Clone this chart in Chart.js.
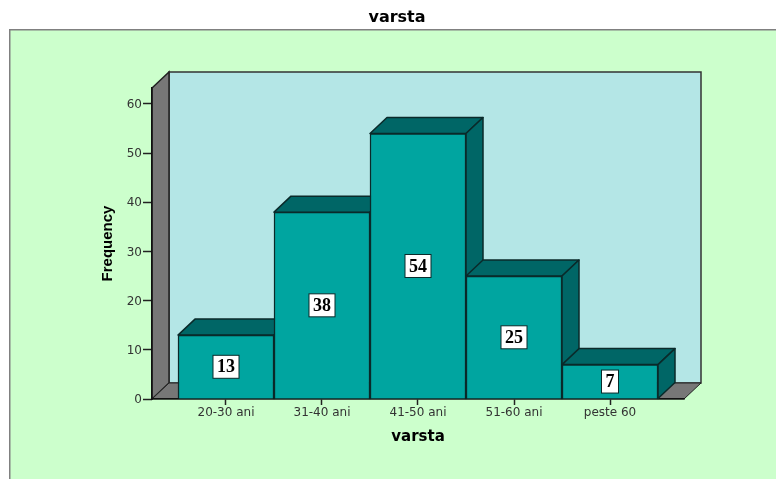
<!DOCTYPE html>
<html>
<head>
    <title>varsta</title>
    <script src="https://cdn.jsdelivr.net/npm/chart.js"></script>
    <style>
        body { margin: 0; background: #fff; }
        canvas { display: block; }
    </style>
</head>
<body>
    <canvas id="histChart" width="776" height="479"></canvas>

    <script>
        const categories = ['20-30 ani', '31-40 ani', '41-50 ani', '51-60 ani', 'peste 60'];
        const frequency = [13, 38, 54, 25, 7];
        const yTicks = [0, 10, 20, 30, 40, 50, 60];

        // depth of the fake 3D box, in pixels
        const DX = 17, DY = 16;

        function poly(c, pts, fill, stroke, lw) {
            c.beginPath();
            pts.forEach((p, i) => i ? c.lineTo(p[0], p[1]) : c.moveTo(p[0], p[1]));
            c.closePath();
            c.fillStyle = fill;
            c.fill();
            c.strokeStyle = stroke;
            c.lineWidth = lw;
            c.stroke();
        }

        const box3d = {
            id: 'box3d',
            afterLayout(chart) {
                // title sits a little right of the centre of its box
                chart.titleBlock.left += 10;
            },
            beforeDraw(chart) {
                const c = chart.ctx;
                const { left, right, top, bottom } = chart.chartArea;
                c.save();
                c.fillStyle = '#fff';
                c.fillRect(0, 0, chart.width, chart.height);
                // panel runs off the right and bottom of the picture
                c.fillStyle = '#ccffcc';
                c.fillRect(10, 30, chart.width, chart.height);
                c.fillStyle = '#808080';
                c.fillRect(9, 29, chart.width, 1.5);
                c.fillRect(9, 29, 1.5, chart.height);
                // back wall, left wall, floor
                poly(c, [[left + DX, top - DY], [right + DX, top - DY], [right + DX, bottom - DY], [left + DX, bottom - DY]], '#b4e6e6', '#333', 1.5);
                poly(c, [[left, top], [left + DX, top - DY], [left + DX, bottom - DY], [left, bottom]], '#777777', '#222', 1.5);
                poly(c, [[left, bottom], [left + DX, bottom - DY], [right + DX, bottom - DY], [right, bottom]], '#777777', '#222', 1);
                c.restore();
            },
            beforeDatasetsDraw(chart) {
                const c = chart.ctx;
                const bars = chart.getDatasetMeta(0).data;
                c.save();
                c.lineJoin = 'round';
                bars.forEach(b => {
                    const p = b.getProps(['x', 'y', 'base', 'width'], true);
                    const l = p.x - p.width / 2, r = p.x + p.width / 2;
                    // top face then right face
                    poly(c, [[l, p.y], [l + DX, p.y - DY], [r + DX, p.y - DY], [r, p.y]], '#006666', '#0a2a2a', 1.5);
                    poly(c, [[r, p.y], [r + DX, p.y - DY], [r + DX, p.base - DY], [r, p.base]], '#006666', '#0a2a2a', 1.5);
                });
                c.restore();
            },
            afterDatasetsDraw(chart) {
                const c = chart.ctx;
                const bars = chart.getDatasetMeta(0).data;
                c.save();
                c.font = 'bold 18px "Liberation Serif"';
                c.textAlign = 'center';
                c.textBaseline = 'middle';
                bars.forEach((b, i) => {
                    const p = b.getProps(['x', 'y', 'base'], true);
                    const cy = (p.y + p.base) / 2;
                    const txt = String(frequency[i]);
                    const w = c.measureText(txt).width + 8;
                    c.fillStyle = '#fff';
                    c.fillRect(p.x - w / 2, cy - 11.5, w, 23);
                    c.strokeStyle = '#0a2a2a';
                    c.lineWidth = 1;
                    c.strokeRect(p.x - w / 2, cy - 11.5, w, 23);
                    c.fillStyle = '#000';
                    c.fillText(txt, p.x, cy + 1);
                });
                c.restore();
            }
        };

        const ctx = document.getElementById('histChart').getContext('2d');

        new Chart(ctx, {
            type: 'bar',
            data: {
                datasets: [{
                    label: 'varsta',
                    data: frequency.map((v, i) => ({ x: i, y: v })),
                    backgroundColor: '#00a5a0',
                    borderColor: '#0a2a2a',
                    borderWidth: 1.5,
                    categoryPercentage: 1,
                    barPercentage: 1
                }]
            },
            plugins: [box3d],
            options: {
                responsive: false,
                animation: false,
                layout: { padding: { left: 100, right: 92, top: 0, bottom: 34 } },
                plugins: {
                    legend: { display: false },
                    tooltip: { enabled: false },
                    title: {
                        display: true,
                        text: 'varsta',
                        color: '#000',
                        font: { family: 'DejaVu Sans', size: 16, weight: 'bold', lineHeight: '16px' },
                        padding: { top: 10, bottom: 62 }
                    }
                },
                scales: {
                    x: {
                        type: 'linear',
                        offset: false,
                        min: -0.7708,
                        max: 4.7708,
                        afterFit(scale) { scale.height = 46; },
                        border: { color: '#111', width: 1.5 },
                        grid: { offset: false, drawOnChartArea: false, tickColor: '#222', tickLength: 6, tickWidth: 1.5 },
                        ticks: {
                            stepSize: 1,
                            includeBounds: false,
                            autoSkip: false,
                            maxRotation: 0,
                            padding: 1,
                            color: '#333',
                            font: { family: 'DejaVu Sans', size: 12 },
                            callback: v => categories[v]
                        },
                        title: {
                            display: true,
                            text: 'varsta',
                            color: '#000',
                            font: { family: 'DejaVu Sans', size: 15, weight: 'bold', lineHeight: '16px' },
                            padding: 0
                        }
                    },
                    y: {
                        min: 0,
                        max: 63.25,
                        afterFit(scale) { scale.width = 52; },
                        border: { color: '#111', width: 1.5 },
                        grid: { drawOnChartArea: false, tickColor: '#222', tickLength: 9, tickWidth: 1.5 },
                        afterBuildTicks(scale) { scale.ticks = yTicks.map(v => ({ value: v })); },
                        ticks: {
                            padding: 1,
                            labelOffset: 1,
                            color: '#333',
                            font: { family: 'DejaVu Sans', size: 12 }
                        },
                        title: {
                            display: true,
                            text: 'Frequency',
                            color: '#000',
                            font: { family: 'Liberation Sans', size: 15, weight: 'bold', lineHeight: '16px' },
                            padding: 0
                        }
                    }
                }
            }
        });
    </script>
</body>
</html>
